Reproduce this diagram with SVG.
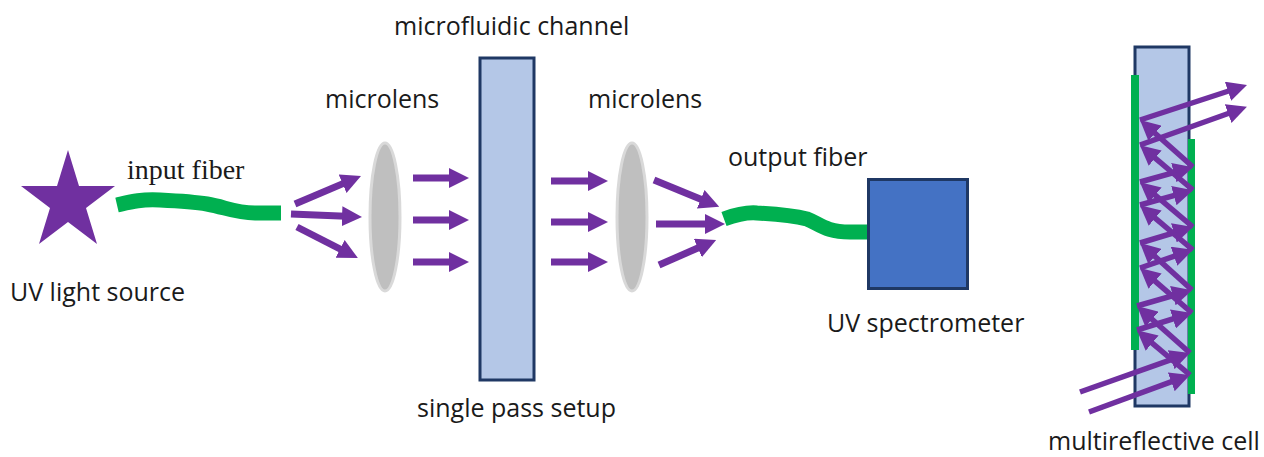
<svg xmlns="http://www.w3.org/2000/svg" width="1264" height="457" viewBox="0 0 1264 457">
<style>
text{font-family:"Open Sans","Noto Sans",sans-serif;font-size:25px;fill:#1a1a1a}
.serif{font-family:"Liberation Serif",serif;font-size:28px}
.lens{fill:#bfbfbf;stroke:#d9d9d9;stroke-width:3}
.cell{fill:#b4c7e7;stroke:#1f3864;stroke-width:3}
.fib{fill:none;stroke:#00b050;stroke-width:15}
.mir{fill:#00b050}
.a{fill:none;stroke:#7030a0;stroke-width:7;marker-end:url(#big)}
.b{fill:none;stroke:#7030a0;stroke-width:5.500;marker-end:url(#small)}
</style>
<defs>
<marker id="big" markerUnits="userSpaceOnUse" markerWidth="20" markerHeight="20" refX="10" refY="10" orient="auto"><path d="M0,0L20,10L0,20z" fill="#7030a0"/></marker>
<marker id="small" markerUnits="userSpaceOnUse" markerWidth="20" markerHeight="20" refX="12" refY="10" orient="auto"><path d="M0,0L20,10L0,20z" fill="#7030a0"/></marker>
</defs>
<rect width="1264" height="457" fill="#fff"/>
<g id="source"><polygon points="68,150 79,186 115,186 86,208 97,244 68,222 39,244 50,208 21,186 57,186" fill="#7030a0"/><text x="10" y="301">UV light source</text></g>
<g id="input-fiber"><path class="fib" d="M117,205C130,202 140,199 160,200C180,201 195,202 207,204C225,207 235,213 255,213L281,213"/><text class="serif" x="127" y="179">input fiber</text></g>
<g id="lens1"><ellipse class="lens" cx="385" cy="217" rx="15" ry="74"/><text x="325" y="108">microlens</text></g>
<g id="channel"><rect class="cell" x="480" y="58" width="54" height="322"/><text x="394" y="35">microfluidic channel</text><text x="417" y="417">single pass setup</text></g>
<g id="lens2"><ellipse class="lens" cx="632" cy="217" rx="15" ry="74"/><text x="588" y="108">microlens</text></g>
<g id="output-fiber"><path class="fib" d="M724,219C735,215 745,212 757,213C775,214 795,216 807,219C820,224 825,232 850,232L868,232"/><text x="728" y="166">output fiber</text></g>
<g id="spectrometer"><rect x="868.500" y="179.500" width="99" height="109" fill="#4472c4" stroke="#1f3864" stroke-width="3"/><text x="827" y="332">UV spectrometer</text></g>
<g id="multireflective-cell"><rect class="cell" x="1135" y="47" width="54" height="359"/><rect class="mir" x="1131" y="75" width="8" height="275"/><rect class="mir" x="1188" y="139" width="7" height="255"/><text x="1048" y="449.500">multireflective cell</text></g>
<g id="connectors">
<path class="a" d="M295,204L351.800,179.900"/><path class="a" d="M291,214L352,216.600"/><path class="a" d="M297,227L349,253.500"/>
<path class="a" d="M413,178H459"/><path class="a" d="M413,220H459"/><path class="a" d="M413,262H459"/>
<path class="a" d="M551,181H598"/><path class="a" d="M551,222H598"/><path class="a" d="M551,262H598"/>
<path class="a" d="M654,180L710,203"/><path class="a" d="M656,224H715"/><path class="a" d="M659,265L707,244"/>
<path class="b" d="M1080,392L1182.500,355.700"/><path class="b" d="M1089,412L1182.500,377.700"/>
<path class="b" d="M1190,353L1143,311.300"/><path class="b" d="M1137,306L1184.400,292.400"/><path class="b" d="M1192,290L1146,248.300"/><path class="b" d="M1140,243L1185.400,229.400"/><path class="b" d="M1193,227L1146,187.300"/><path class="b" d="M1140,182L1185.400,169.400"/><path class="b" d="M1193,167L1146,125.300"/><path class="b" d="M1140,120L1239.400,87.500"/>
<path class="b" d="M1190,375L1143,335.300"/><path class="b" d="M1137,330L1184.400,315.400"/><path class="b" d="M1192,313L1146,273.300"/><path class="b" d="M1140,268L1185.400,252.400"/><path class="b" d="M1193,250L1146,210.300"/><path class="b" d="M1140,205L1185.400,192.400"/><path class="b" d="M1193,190L1146,150.300"/><path class="b" d="M1140,145L1239.400,109.500"/>
</g>
</svg>
